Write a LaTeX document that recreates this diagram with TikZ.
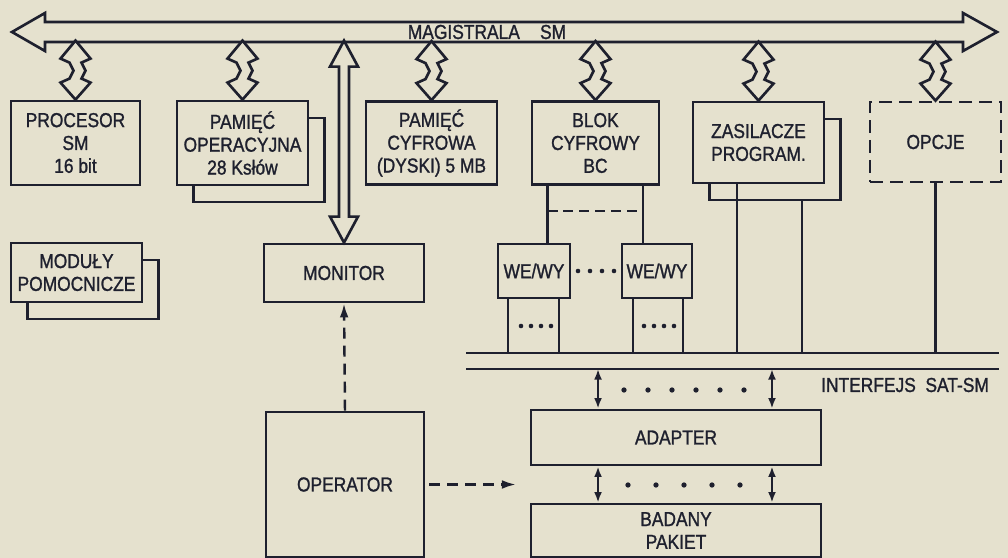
\documentclass[tikz,border=0pt]{standalone}
\usepackage{fontspec}
\setmainfont{Liberation Sans}[FakeStretch=0.86, FakeBold=1.2]
\usetikzlibrary{calc,arrows.meta,shadows}

\definecolor{paper}{RGB}{229,225,206}
\definecolor{ink}{RGB}{30,32,46}

% bus link with the zig-zag shaft, from a block up to the bus
\newcommand\zconn[1]{\draw[conn] (#1.north) -- ++(15,-17) -- ++(-9,-4) -- ++(4,-8) -- ++(-4,-8) -- ++(9,-4) -- ++(-15,-18)
  -- ++(-15,18) -- ++(9,4) -- ++(4,8) -- ++(-4,8) -- ++(-9,4) -- cycle}

\begin{document}
\begin{tikzpicture}[
    x=0.02cm, y=-0.02cm,
    box/.style={
      draw=ink,
      fill=paper,
      line width=1.6pt,
      text=ink,
      align=center,
      inner sep=0pt,
      font=\fontsize{11.5}{13}\selectfont
    },
    stack/.style={box, copy shadow={shadow xshift=0.33cm, shadow yshift=-0.34cm}},
    optbox/.style={box, dash pattern=on 0.26cm off 0.14cm},
    conn/.style={draw=ink, fill=paper, line width=1.5pt, line join=miter},
    wire/.style={draw=ink, line width=1.4pt},
    dasharrow/.style={draw=ink, line width=1.4pt, dash pattern=on 0.22cm off 0.14cm, -{Latex[length=8pt,width=5pt]}},
    linkarrow/.style={draw=ink, line width=1.3pt, {Latex[length=6pt,width=4.5pt]}-{Latex[length=6pt,width=4.5pt]}},
    label/.style={text=ink, font=\fontsize{11.5}{13}\selectfont}
  ]
  \useasboundingbox[fill=paper] (0,0) rectangle (1008,558);

  % magistrala SM
  \draw[conn] (12,32) -- (45,13) -- (45,22) -- (963,22) -- (963,13) -- (997,32) -- (963,51) -- (963,42) -- (45,42) -- (45,51) -- cycle;
  \node[label] (bus) at (487,32) {MAGISTRALA\quad SM};

  % blocks on the bus
  \node[box, minimum width=2.58cm, minimum height=1.68cm] (proc) at (75.5,143) {PROCESOR\\SM\\16 bit};
  \node[stack, minimum width=2.62cm, minimum height=1.68cm] (pop) at (242.5,143) {PAMIĘĆ\\OPERACYJNA\\28 Ksłów};
  \node[box, minimum width=2.62cm, minimum height=1.66cm] (pcy) at (431.5,143) {PAMIĘĆ\\CYFROWA\\(DYSKI) 5 MB};
  \node[box, minimum width=2.54cm, minimum height=1.66cm] (bc) at (595.5,143) {BLOK\\CYFROWY\\BC};
  \node[stack, minimum width=2.62cm, minimum height=1.62cm] (zas) at (758.5,142.5) {ZASILACZE\\PROGRAM.};
  \node[optbox, minimum width=2.62cm, minimum height=1.60cm] (opc) at (935.5,142) {OPCJE};

  \node[stack, minimum width=2.62cm, minimum height=1.18cm] (mod) at (76.5,272.5) {MODUŁY\\POMOCNICZE};
  \node[box, minimum width=3.2cm, minimum height=1.16cm] (mon) at (344,273) {MONITOR};
  \node[box, minimum width=1.44cm, minimum height=1.08cm] (we1) at (534,271) {WE/WY};
  \node[box, minimum width=1.40cm, minimum height=1.08cm] (we2) at (657,271) {WE/WY};

  \node[box, minimum width=3.16cm, minimum height=2.9cm] (oper) at (345,484.5) {OPERATOR};
  \node[box, minimum width=5.8cm, minimum height=1.1cm] (adap) at (676,437.5) {ADAPTER};
  \node[box, minimum width=5.8cm, minimum height=1.06cm] (bad) at (676,530.5) {BADANY\\PAKIET};

  % links to the bus
  \foreach \n in {proc,pop,pcy,bc,zas,opc}{\zconn{\n};}
  \draw[conn] (mon.north) -- ++(14,-26) -- ++(-9,0) -- ++(0,-150) -- ++(9,0) -- ++(-14,-26)
    -- ++(-14,26) -- ++(9,0) -- ++(0,150) -- ++(-9,0) -- cycle;

  % interfejs SAT-SM
  \coordinate (ifaL) at (466,353);
  \coordinate (ifaR) at (999,353);
  \coordinate (ifbL) at (466,369);
  \coordinate (ifbR) at (999,369);
  \draw[wire] (ifaL) -- (ifaR);
  \draw[wire] (ifbL) -- (ifbR);
  \node[label, anchor=west] (iflab) at (815,385) {INTERFEJS\ \ SAT-SM};

  % BC to WE/WY
  \draw[wire] ([xshift=0.27cm]we1.north |- bc.south) -- coordinate[pos=.44] (t1) ([xshift=0.27cm]we1.north);
  \draw[wire] ([xshift=-0.28cm]we2.north |- bc.south) -- coordinate[pos=.44] (t2) ([xshift=-0.28cm]we2.north);
  \draw[wire, dash pattern=on 0.2cm off 0.12cm] (t1) -- (t2);
  \foreach \x in {578,590,602,614}{\fill[ink] (\x,271) circle (1.3pt);}

  % WE/WY, zasilacze, opcje down to the interface
  \foreach \s in {-0.52cm,0.5cm}{\draw[wire] ([xshift=\s]we1.south) -- ([xshift=\s]we1.south |- ifaL);}
  \foreach \s in {-0.48cm,0.52cm}{\draw[wire] ([xshift=\s]we2.south) -- ([xshift=\s]we2.south |- ifaL);}
  \foreach \x in {521,531,541,551,644,654,664,674}{\fill[ink] (\x,326) circle (1.3pt);}
  \draw[wire] ([xshift=-0.43cm]zas.south) -- ([xshift=-0.43cm]zas.south |- ifaL);
  \draw[wire] ([xshift=0.87cm,yshift=-0.34cm]zas.south) -- ([xshift=0.87cm]zas.south |- ifaL);
  \draw[wire] (opc.south) -- (opc.south |- ifaL);

  % interface - adapter - pakiet
  \draw[linkarrow] ([xshift=-1.56cm]adap.north |- ifbL) -- ([xshift=-1.56cm]adap.north);
  \draw[linkarrow] ([xshift=1.92cm]adap.north |- ifbL) -- ([xshift=1.92cm]adap.north);
  \foreach \x in {624,648,...,744}{\fill[ink] (\x,390) circle (1.5pt);}
  \draw[linkarrow] ([xshift=-1.56cm]adap.south) -- ([xshift=-1.56cm]bad.north);
  \draw[linkarrow] ([xshift=1.92cm]adap.south) -- ([xshift=1.92cm]bad.north);
  \foreach \x in {628,656,...,740}{\fill[ink] (\x,485) circle (1.5pt);}

  % operator
  \coordinate (opend) at (516,484.5);
  \draw[dasharrow] (oper.north) -- (mon.south);
  \draw[dasharrow] ([xshift=0.08cm]oper.east) -- (opend);
\end{tikzpicture}
\end{document}
